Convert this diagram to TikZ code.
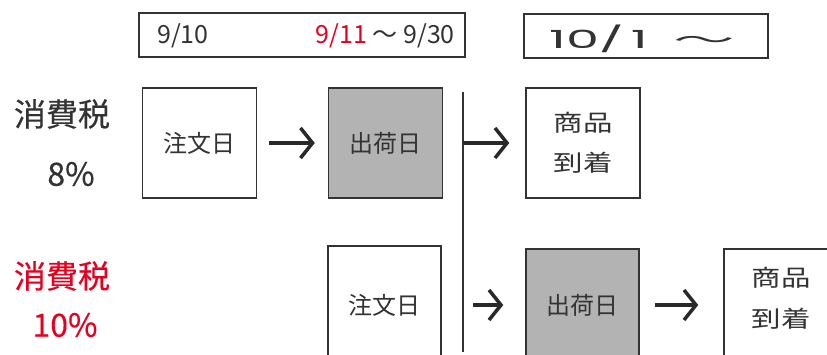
\documentclass[tikz,border=0pt]{standalone}
\usepackage{fontspec}
\usepackage{graphicx}
\setmainfont{Noto Sans CJK JP}
\newfontfamily\labelfont{Noto Sans CJK JP}[FakeBold=0.35]
\newfontfamily\geofont{Poppins}
\usetikzlibrary{arrows.meta}
\definecolor{ink}{HTML}{333333}
\definecolor{redtxt}{HTML}{E60020}
\definecolor{boxgray}{HTML}{B3B3B3}
\newcommand{\wide}[1]{\scalebox{1.28}[1]{#1}}
\tikzset{
  fsz/.style={font=\fontsize{#1}{#1}\selectfont},
  stepbox/.style={draw=ink, line width=1.5pt, minimum width=114pt, minimum height=110pt,
    inner sep=0pt, text=ink, fsz=24, align=center},
  boxtext/.style={inner sep=0pt, text=ink, fsz=23, align=center},
  grayfill/.style={fill=boxgray},
  datebox/.style={draw=ink, line width=1.5pt, inner sep=0pt},
  flow/.style={draw=ink!80!black, line width=3.5pt, -{Straight Barb[length=12pt,width=30pt]}},
  label/.style={inner sep=0pt, text=ink, font=\labelfont\fontsize{32}{32}\selectfont},
  datetxt/.style={inner sep=0pt, text=ink, fsz=25},
}
\begin{document}
\begin{tikzpicture}[x=1pt,y=-1pt]
\useasboundingbox (0,0) rectangle (827,354);
% date boxes
\node[datebox, minimum width=326pt, minimum height=44pt] (db1) at (302,35) {};
\node[datetxt, anchor=west] (d910) at (157,36) {9/10};
\node[datetxt, anchor=east] (d911) at (455,36) {\textcolor{redtxt}{9/11} 〜 9/30};
\node[datebox, minimum width=244pt, minimum height=44pt] (db2) at (646,36) {};
\node[inner sep=0pt, text=ink, anchor=base west] (d101) at (549,48)
  {{\geofont\fontsize{25}{25}\selectfont\scalebox{2.1}[1]{10/}\hspace{7pt}\scalebox{2.1}[1]{1}}\hspace{26pt}{\fontsize{22}{22}\selectfont\scalebox{2.8}[1.07]{〜}}};
% left labels
\node[label] (tax8) at (62,114) {消費税};
\node[label] (pct8) at (71,174) {8\%};
\node[label, text=redtxt] (tax10) at (62,276) {消費税};
\node[label, text=redtxt] (pct10) at (65,325) {10\%};
% row 1
\node[stepbox] (o1) at (199.5,143) {注文日};
\node[stepbox, grayfill] (s1) at (385.5,143) {出荷日};
\node[stepbox] (r1) at (583,143) {};
\node[boxtext] (r1t) at (583,142.5) {\wide{商品}\\[17pt]\wide{到着}};
% separator
\coordinate (vt) at (463,92);
\coordinate (vb) at (463,352);
\draw[ink, line width=1.5pt] (vt) -- (vb);
% row 2
\node[stepbox, minimum width=113pt, minimum height=118pt] (o2) at (384.5,305) {注文日};
\node[stepbox, grayfill, minimum width=113pt, minimum height=112pt] (s2) at (582.5,305) {出荷日};
\node[stepbox, minimum height=116pt] (r2) at (781,307) {};
\node[boxtext] (r2t) at (781,298) {\wide{商品}\\[18pt]\wide{到着}};
% arrows
\draw[flow, shorten <=12pt, shorten >=13pt] (o1.east) -- (s1.west);
\draw[flow, shorten >=16pt] (vt |- r1.west) -- (r1.west);
\draw[flow, shorten <=31pt, shorten >=22pt] (o2.east) -- (o2.east -| s2.west);
\draw[flow, shorten <=15pt, shorten >=25pt] (s2.east) -- (s2.east -| r2.west);
\end{tikzpicture}
\end{document}
